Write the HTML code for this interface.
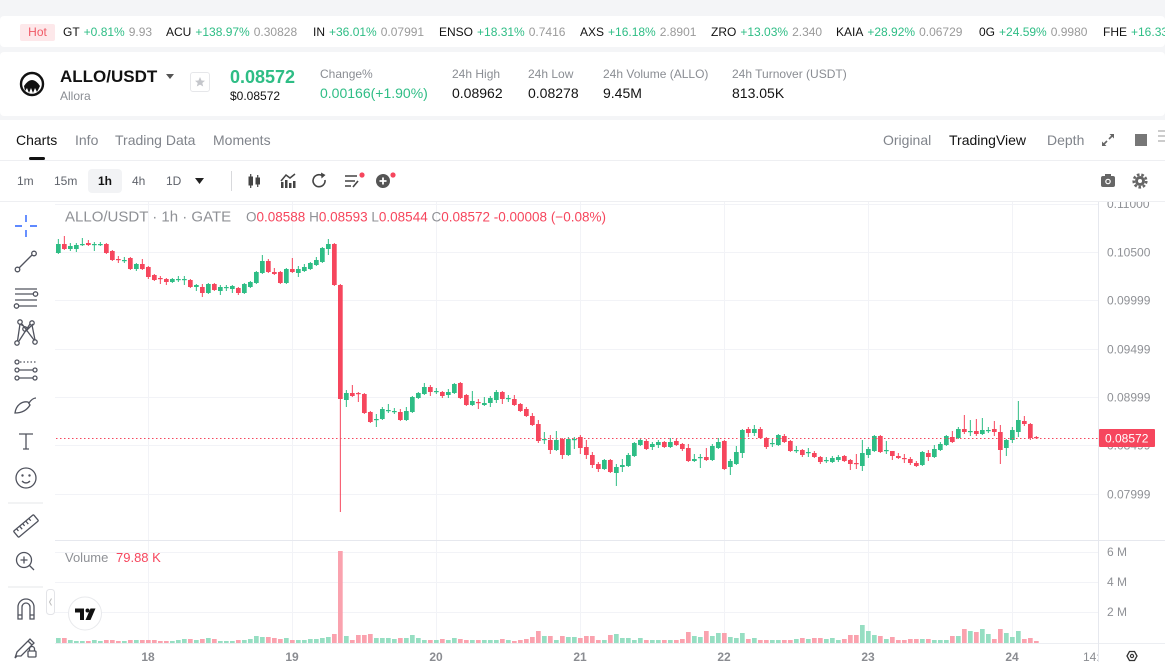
<!DOCTYPE html>
<html><head><meta charset="utf-8">
<style>
*{margin:0;padding:0;box-sizing:border-box}
body{width:1165px;height:662px;overflow:hidden;background:#f4f5f7;font-family:"Liberation Sans",sans-serif;position:relative;color:#121212}
.a{position:absolute;white-space:nowrap;line-height:20px}
.m{color:#9a9a9a}.r{color:#f6465d}
.t{font-size:12px;top:22px}
.t span{margin-left:4px}
.lb{font-size:12px;color:#8a8d93;top:64px}
.vl{font-size:14px;color:#121212;top:83px}
.tab{font-size:14px;color:#80848b;top:130px}
.tf{font-size:12px;color:#5f636b;top:171px}
.g{color:#2ebd85 !important}
</style></head><body>
<!-- panels -->
<div class="a" style="left:0;top:16px;width:1165px;height:31px;background:#fff;border-radius:4px"></div>
<div class="a" style="left:0;top:52px;width:1165px;height:64px;background:#fff;border-radius:4px"></div>
<div class="a" style="left:0;top:120px;width:1165px;height:542px;background:#fff"></div>

<!-- ticker -->
<div class="a" style="left:20px;top:24px;width:35px;height:17px;background:#fde8ea;border-radius:2px;color:#f05a66;font-size:12px;line-height:17px;text-align:center">Hot</div>
<div class="a t" style="left:63px">GT<span class="g">+0.81%</span><span class="m">9.93</span></div>
<div class="a t" style="left:166px">ACU<span class="g">+138.97%</span><span class="m">0.30828</span></div>
<div class="a t" style="left:313px">IN<span class="g">+36.01%</span><span class="m">0.07991</span></div>
<div class="a t" style="left:439px">ENSO<span class="g">+18.31%</span><span class="m">0.7416</span></div>
<div class="a t" style="left:580px">AXS<span class="g">+16.18%</span><span class="m">2.8901</span></div>
<div class="a t" style="left:711px">ZRO<span class="g">+13.03%</span><span class="m">2.340</span></div>
<div class="a t" style="left:836px">KAIA<span class="g">+28.92%</span><span class="m">0.06729</span></div>
<div class="a t" style="left:979px">0G<span class="g">+24.59%</span><span class="m">0.9980</span></div>
<div class="a t" style="left:1103px">FHE<span class="g">+16.33%</span></div>

<!-- header -->
<div class="a" style="left:60px;top:67px;font-size:17px;font-weight:bold">ALLO/USDT</div>
<div class="a" style="left:60px;top:86px;font-size:12px;color:#8a8d93">Allora</div>
<div class="a" style="left:190px;top:72px;width:20px;height:20px;border:1px solid #e6e7ea;border-radius:3px"></div>
<div class="a g" style="left:230px;top:67px;font-size:18px;font-weight:bold">0.08572</div>
<div class="a" style="left:230px;top:86px;font-size:12px">$0.08572</div>
<div class="a lb" style="left:320px">Change%</div>
<div class="a vl g" style="left:320px">0.00166(+1.90%)</div>
<div class="a lb" style="left:452px">24h High</div>
<div class="a vl" style="left:452px">0.08962</div>
<div class="a lb" style="left:528px">24h Low</div>
<div class="a vl" style="left:528px">0.08278</div>
<div class="a lb" style="left:603px">24h Volume (ALLO)</div>
<div class="a vl" style="left:603px">9.45M</div>
<div class="a lb" style="left:732px">24h Turnover (USDT)</div>
<div class="a vl" style="left:732px">813.05K</div>

<!-- tabs -->
<div class="a tab" style="left:16px;color:#121212">Charts</div>
<div class="a tab" style="left:75px">Info</div>
<div class="a tab" style="left:115px">Trading Data</div>
<div class="a tab" style="left:213px">Moments</div>
<div class="a tab" style="left:883px">Original</div>
<div class="a tab" style="left:949px;color:#121212">TradingView</div>
<div class="a tab" style="left:1047px">Depth</div>
<div class="a" style="left:29px;top:157px;width:16px;height:3px;background:#121212;border-radius:2px"></div>

<!-- timeframe toolbar -->
<div class="a" style="left:88px;top:169px;width:34px;height:24px;background:#f2f3f5;border-radius:4px"></div>
<div class="a tf" style="left:17px">1m</div>
<div class="a tf" style="left:54px">15m</div>
<div class="a tf" style="left:98px;color:#121212;font-weight:bold">1h</div>
<div class="a tf" style="left:132px">4h</div>
<div class="a tf" style="left:166px">1D</div>

<svg class="a" style="left:0;top:0" width="1165" height="662" viewBox="0 0 1165 662">
<defs>
<clipPath id="pc"><rect x="55" y="202" width="1043" height="441"/></clipPath>
<clipPath id="ac"><rect x="1099" y="202" width="66" height="460"/></clipPath>
<clipPath id="dc"><rect x="55" y="643" width="1043" height="19"/></clipPath>
</defs>
<!-- header logo -->
<circle cx="32" cy="84" r="11" fill="#fff" stroke="#111" stroke-width="2.4"/>
<path d="M24 86 Q32 74 40 86 L37 92 L35 88 L33 93 L31 88 L29 93 L27 88 L25 91 Z" fill="#111"/>
<path d="M166 74 L174 74 L170 79 Z" fill="#555"/>
<path d="M200 77 L201.5 80.5 L205 80.8 L202.3 83 L203.2 86.5 L200 84.6 L196.8 86.5 L197.7 83 L195 80.8 L198.5 80.5 Z" fill="#c4c6cb"/>
<!-- tab row right icons -->
<g stroke="#666" stroke-width="1.6" fill="none"><path d="M1103 145 L1107 141 M1109 139 L1113 135"/></g>
<path d="M1102 146 L1102 141.5 L1106.5 146 Z M1114 134 L1114 138.5 L1109.5 134 Z" fill="#666"/>
<rect x="1135" y="134" width="12" height="12" fill="#777"/>
<g stroke="#bbb" stroke-width="1.5"><path d="M1158 131 H1165 M1158 136 H1165 M1158 141 H1165"/></g>
<line x1="0" y1="160.5" x2="1165" y2="160.5" stroke="#eeeff2"/>
<!-- timeframe dropdown & icons -->
<path d="M195 178 L204 178 L199.5 184 Z" fill="#222"/>
<line x1="231.5" y1="171" x2="231.5" y2="191" stroke="#d8d9dc"/>
<g fill="#444" stroke="#444">
<rect x="249" y="177" width="3.5" height="8"/><line x1="250.7" y1="174" x2="250.7" y2="188" stroke-width="1.2"/>
<rect x="256" y="178" width="3.5" height="6"/><line x1="257.7" y1="175" x2="257.7" y2="187" stroke-width="1.2"/>
</g>
<g fill="#444"><rect x="281" y="182" width="2.5" height="6"/><rect x="285" y="180" width="2.5" height="8"/><rect x="289" y="183" width="2.5" height="5"/><rect x="293" y="181" width="2.5" height="7"/></g>
<path d="M281 181 L286 175 L290 178 L295 174" stroke="#444" stroke-width="1.5" fill="none"/>
<path d="M325 180 A6 6 0 1 1 322 175.5" stroke="#444" stroke-width="1.6" fill="none"/>
<path d="M321 172.5 L325.5 175 L321.5 178.5 Z" fill="#444"/>
<g stroke="#444" stroke-width="1.6"><path d="M345 176 H357 M345 181 H355 M345 186 H351"/></g>
<path d="M353 187 L358 181" stroke="#444" stroke-width="1.6"/>
<circle cx="362" cy="175" r="2.6" fill="#f6465d"/>
<circle cx="383" cy="181" r="7" fill="#555"/>
<path d="M383 177.5 V184.5 M379.5 181 H386.5" stroke="#fff" stroke-width="1.8"/>
<circle cx="393" cy="175" r="2.6" fill="#f6465d"/>
<rect x="1101" y="176" width="14" height="11" rx="2" fill="#666"/><rect x="1105" y="174" width="6" height="3" fill="#666"/>
<circle cx="1108" cy="181.5" r="2.8" fill="#fff"/><circle cx="1108" cy="181.5" r="1.6" fill="#666"/>
<circle cx="1140" cy="181" r="6.3" fill="none" stroke="#666" stroke-width="2.6" stroke-dasharray="2.6 1.8"/>
<circle cx="1140" cy="181" r="5" fill="#666"/><circle cx="1140" cy="181" r="2" fill="#fff"/>
<line x1="0" y1="201.5" x2="1165" y2="201.5" stroke="#eeeff2"/>

<!-- grid -->
<g stroke="#f2f3f7" stroke-width="1">
<path d="M148.5 202V643M292.5 202V643M436.5 202V643M580.5 202V643M724.5 202V643M868.5 202V643M1012.5 202V643"/>
<path d="M55 204.5H1098M55 252.5H1098M55 300.5H1098M55 349.5H1098M55 397.5H1098M55 445.5H1098M55 494.5H1098"/>
<path d="M55 552.5H1098M55 582.5H1098M55 612.5H1098"/>
</g>
<line x1="55" y1="540.5" x2="1165" y2="540.5" stroke="#e6e8ee"/>
<line x1="55" y1="643.5" x2="1165" y2="643.5" stroke="#eceef2"/>
<line x1="1098.5" y1="202" x2="1098.5" y2="662" stroke="#e6e8ee"/>

<!-- volume & candles -->
<g id="v" clip-path="url(#pc)"></g>
<g id="c" clip-path="url(#pc)"></g>
<line x1="56" y1="438.5" x2="1098" y2="438.5" stroke="#f6465d" stroke-width="1" stroke-dasharray="1.5 2.5"/>

<!-- price axis -->
<g clip-path="url(#ac)" font-family="Liberation Sans, sans-serif" font-size="12" fill="#8f9196">
<text x="1107" y="208">0.11000</text>
<text x="1107" y="256.5">0.10500</text>
<text x="1107" y="304.5">0.09999</text>
<text x="1107" y="353.5">0.09499</text>
<text x="1107" y="401.5">0.08999</text>
<text x="1107" y="449.5">0.08499</text>
<text x="1107" y="498.5">0.07999</text>
<text x="1107" y="556">6 M</text>
<text x="1107" y="586">4 M</text>
<text x="1107" y="616">2 M</text>
</g>
<rect x="1099" y="429" width="56" height="18" rx="1" fill="#f6465d"/>
<text x="1105" y="442.5" font-family="Liberation Sans, sans-serif" font-size="12" fill="#fff">0.08572</text>

<!-- legends -->
<text x="65" y="221.5" font-family="Liberation Sans, sans-serif" font-size="15" fill="#8f9196">ALLO/USDT · 1h · GATE</text>
<text x="246" y="221.5" font-family="Liberation Sans, sans-serif" font-size="13.5" fill="#f6465d"><tspan fill="#8f9196">O</tspan>0.08588 <tspan fill="#8f9196">H</tspan>0.08593 <tspan fill="#8f9196">L</tspan>0.08544 <tspan fill="#8f9196">C</tspan>0.08572 -0.00008 (−0.08%)</text>
<text x="65" y="562" font-family="Liberation Sans, sans-serif" font-size="13" fill="#8f9196">Volume</text>
<text x="116" y="562" font-family="Liberation Sans, sans-serif" font-size="13" fill="#f6465d">79.88 K</text>

<!-- TV logo -->
<circle cx="85" cy="613.5" r="16.5" fill="#fff" stroke="#e8e9ec"/>
<path d="M75 608.5 H84 V620 H80 V612.5 H75 Z" fill="#111"/>
<circle cx="87.5" cy="610.5" r="2" fill="#111"/>
<path d="M90.5 608.5 H95.5 L90.5 620 H85.5 Z" fill="#111"/>
<rect x="46.5" y="589.5" width="8" height="25" rx="3" fill="#fff" stroke="#e3e4e8"/>
<path d="M51.5 598.5 L49.5 602 L51.5 605.5" stroke="#bbb" fill="none"/>

<!-- date axis -->
<g font-family="Liberation Sans, sans-serif" font-size="12" font-weight="bold" fill="#8a8c91" text-anchor="middle">
<text x="148" y="661">18</text><text x="292" y="661">19</text><text x="436" y="661">20</text><text x="580" y="661">21</text><text x="724" y="661">22</text><text x="868" y="661">23</text><text x="1012" y="661">24</text>
</g>
<g clip-path="url(#dc)"><text x="1083" y="661" font-family="Liberation Sans, sans-serif" font-size="12" fill="#8a8c91">14:00</text></g>
<path d="M1127 656 L1129.5 651.5 H1134.5 L1137 656 L1134.5 660.5 H1129.5 Z" fill="none" stroke="#333" stroke-width="1.3"/>
<circle cx="1132" cy="656" r="1.6" fill="none" stroke="#333" stroke-width="1.2"/>

<!-- left toolbar -->
<g stroke="#2962ff" stroke-width="1.4"><path d="M26 215V222M26 230V237M15 226H22M30 226H37"/></g>
<g stroke="#50535e" stroke-width="1.3" fill="none">
<line x1="19" y1="268" x2="32" y2="255"/><circle cx="17.5" cy="269.5" r="2.3"/><circle cx="34" cy="253.5" r="2.3"/>
<path d="M15 289H37M15 294H33M15 300H37M19 306H37"/><circle cx="35.5" cy="294" r="2.2"/><circle cx="16.5" cy="306" r="2.2"/>
<circle cx="20" cy="322" r="2.2"/><circle cx="32" cy="323" r="2.2"/><circle cx="25" cy="329" r="2.2"/><circle cx="17" cy="343" r="2.2"/><circle cx="35" cy="342" r="2.2"/>
<path d="M20 324L17.5 341M20 324L25 327M22 324L34 340M30 324L19 341M32 325L35 340M26 331L33 324"/>
<circle cx="17" cy="362" r="2"/><circle cx="17" cy="370" r="2"/><circle cx="17" cy="378" r="2"/><circle cx="35" cy="370" r="2"/><circle cx="35" cy="378" r="2"/>
<path d="M20 362H36" stroke-dasharray="1.5 2"/><path d="M19 370H33M19 378H33"/>
<path d="M15 413 C16 405 22 401 28 402 L30 405 C27 410 22 413 15 413 Z M29 403 C31 400 33 398 36 398"/>
<path d="M19 434H33M26 434V449M23 449H29"/>
<circle cx="26" cy="478" r="10"/><path d="M22 481 Q26 485 30 481"/>
<g transform="rotate(-40 26 526)"><rect x="13" y="522" width="26" height="8" rx="1"/><path d="M17 522V525M21 522V526M25 522V525M29 522V526M33 522V525"/></g>
<circle cx="24" cy="560" r="7.5"/><path d="M24 556.5V563.5M20.5 560H27.5M29.5 565.5L34 570"/>
<path d="M18 619V607A8 8 0 0 1 34 607V619H30V607A4 4 0 0 0 22 607V619Z M18 615H22M30 615H34"/>
<path d="M17 656L15 658L17 652L30 639L34 643L21 656Z M28 641L32 645"/>
<rect x="28" y="651" width="8" height="6" rx="1"/><path d="M29.5 651V649A2.5 2.5 0 0 1 34.5 649V651"/>
</g>
<g fill="#50535e"><circle cx="22.5" cy="475.5" r="1.2"/><circle cx="29.5" cy="475.5" r="1.2"/></g>
<g stroke="#e6e7ea"><path d="M8 503H43M8 587H43"/></g>
</svg>

<script>
const D=[
[253,244,239,254],[244,249,236,250],[249,246,243,251],[249,245,243,252],[245,244,238,246],[243,245,240,246],[245,244,242,251],[245,244,242,246],[244,253,243,254],[251,260,250,261],
[259,260,256,263],[261,260,257,263],[258,269,257,270],[269,264,263,271],[264,269,259,270],[267,277,266,279],[275,280,274,281],[278,279,276,284],[279,282,278,285],[282,279,278,283],
[280,279,276,282],[280,279,276,285],[280,287,279,288],[287,285,284,291],[287,293,284,297],[293,284,283,294],[284,290,283,291],[291,287,285,295],[288,287,285,291],[289,286,285,293],
[288,293,287,295],[293,284,283,294],[287,282,281,288],[283,272,271,284],[273,261,255,274],[261,272,259,273],[272,274,268,275],[272,283,271,284],[283,269,268,284],[269,272,258,273],
[273,269,266,277],[271,267,264,272],[269,263,262,270],[265,260,257,266],[262,248,247,263],[249,244,239,255],[244,285,243,286],[285,399,284,512],[400,393,390,407],[393,396,385,397],
[393,394,392,402],[394,413,393,414],[412,422,411,423],[420,419,414,427],[419,409,407,420],[411,410,404,413],[412,411,408,414],[412,420,409,421],[420,411,407,421],[412,397,396,413],
[398,393,392,399],[394,387,383,395],[387,392,385,396],[392,391,388,394],[392,396,391,398],[395,392,389,398],[393,384,383,394],[383,398,382,399],[395,405,394,406],[405,401,391,406],
[402,403,399,409],[405,403,397,406],[403,398,396,407],[400,392,390,403],[392,399,391,404],[399,398,395,402],[399,405,395,406],[404,411,403,412],[409,416,407,417],[416,425,413,426],
[424,441,420,443],[440,439,432,444],[440,450,435,454],[450,440,431,451],[439,455,438,459],[455,439,437,456],[440,439,437,449],[437,448,435,454],[447,455,440,459],[455,465,452,468],
[464,469,462,472],[469,460,459,470],[460,472,459,473],[473,467,464,486],[467,465,459,472],[466,455,453,467],[456,443,442,457],[445,440,438,446],[441,449,439,450],[447,444,442,450],
[445,442,440,448],[442,447,441,448],[447,442,438,448],[441,445,439,446],[444,449,443,451],[448,461,444,462],[461,459,454,462],[458,457,454,468],[457,460,448,461],[460,446,444,461],
[448,442,438,449],[441,469,440,470],[467,461,459,475],[464,452,446,465],[453,430,429,458],[429,433,427,437],[433,429,425,436],[429,438,427,439],[438,447,437,449],[444,443,439,447],
[445,435,434,446],[436,442,434,443],[441,451,440,452],[451,450,446,453],[450,455,449,457],[453,452,448,457],[453,457,451,458],[457,462,456,464],[461,460,457,463],[462,458,456,463],
[460,457,455,462],[456,461,455,462],[460,464,459,470],[463,464,454,469],[466,453,440,471],[455,449,447,458],[451,436,435,452],[436,452,435,453],[451,450,441,454],[451,456,451,460],
[456,458,453,459],[458,459,454,463],[459,463,457,465],[463,466,461,467],[465,452,451,466],[453,457,450,461],[457,449,445,458],[450,444,442,451],[445,436,435,446],[437,442,431,443],
[438,429,427,439],[429,432,415,434],[432,431,420,436],[431,434,419,436],[434,430,418,435],[431,430,427,433],[429,432,421,436],[432,450,425,464],[448,440,439,456],[440,430,427,443],
[432,420,401,437],[421,424,416,426],[424,438,423,440],[437,438,436,439]];
const V=[5,5,3,2,2,2,3,2,3,3, 2,2,3,3,3,3,3,2,2,2, 3,4,4,3,4,5,4,2,2,2, 3,3,4,7,6,6,5,4,5,3,
3,3,4,4,5,6,9,92,7,3, 8,8,9,5,5,5,4,5,5,8, 5,3,3,3,4,3,5,4,3,3, 3,3,3,3,4,3,2,3,4,6,
12,7,7,3,7,6,6,5,7,7, 3,3,8,9,5,5,3,5,3,3, 3,3,3,3,4,11,7,6,12,7, 10,10,6,5,10,4,5,3,3,3,
3,3,3,4,5,4,5,5,4,5, 3,4,8,8,18,12,8,7,4,6, 3,3,4,4,4,4,3,3,3,7, 7,14,12,11,14,9,4,14,10,6, 12,4,5,2];
let c='',v='';
D.forEach((d,i)=>{const x=56+6*i,[o,cl,h,l]=d,up=cl<o,col=up?'#2ebd85':'#f6465d',vc=up?'#96dec2':'#faa2ae';
const t=Math.min(o,cl),bh=Math.max(Math.abs(o-cl),1.2);
c+=`<rect x="${x+1.85}" y="${h}" width="1" height="${l-h}" fill="${col}"/><rect x="${x}" y="${t}" width="4.7" height="${bh}" fill="${col}"/>`;
const vh=V[i]||2;v+=`<rect x="${x}" y="${643-vh}" width="4.7" height="${vh}" fill="${vc}"/>`;});
document.getElementById('c').innerHTML=c;document.getElementById('v').innerHTML=v;
</script>
</body></html>
